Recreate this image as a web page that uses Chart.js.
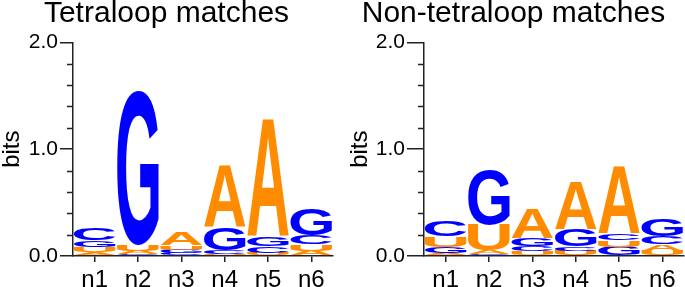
<!DOCTYPE html>
<html>
<head>
<meta charset="utf-8">
<script src="https://cdn.jsdelivr.net/npm/chart.js@4.4.1/dist/chart.umd.min.js"></script>
<style>
  body { margin: 0; background: #fff; width: 685px; height: 287px; position: relative; overflow: hidden; }
  .panel { position: absolute; top: 0; height: 287px; }
  #left { left: 0; width: 343px; }
  #right { left: 343px; width: 342px; }
  canvas { display: block; }
</style>
</head>
<body>
<div class="panel" id="left"><canvas id="c1" width="343" height="287"></canvas></div>
<div class="panel" id="right"><canvas id="c2" width="342" height="287"></canvas></div>
<script>
const positions = ['n1', 'n2', 'n3', 'n4', 'n5', 'n6'];

// letters in each column, bottom to top, with their heights in bits
const tetraLetters = [['A','U','G','C'], ['C','A','U','G'], ['C','G','U','A'], ['U','C','G','A'], ['U','C','G','A'], ['A','U','C','G']];
const tetraBits = [
  [0.035, 0.05, 0.065, 0.11],
  [0.015, 0.03, 0.055, 1.44],
  [0.025, 0.035, 0.04, 0.12],
  [0.02, 0.035, 0.21, 0.58],
  [0.03, 0.06, 0.09, 1.1],
  [0.05, 0.06, 0.085, 0.25]
];

const nonLetters = [['A','G','U','C'], ['C','A','U','G'], ['U','C','G','A'], ['U','C','G','A'], ['G','U','C','A'], ['U','A','C','G']];
const nonBits = [
  [0.025, 0.06, 0.1, 0.15],
  [0.015, 0.037, 0.238, 0.514],
  [0.045, 0.05, 0.075, 0.27],
  [0.05, 0.04, 0.156, 0.45],
  [0.087, 0.062, 0.062, 0.625],
  [0.05, 0.065, 0.07, 0.16]
];

const yLabelTicks = [0, 1, 2];
const yMinorTicks = [0.2, 0.4, 0.6, 0.8, 1.2, 1.4, 1.6, 1.8];

const letterColors = { A: '#FF8C00', U: '#FF8C00', G: '#0000FF', C: '#0000FF' };
const FONT = '"Liberation Sans", Arial, sans-serif';
const AXIS = '#222';

const glyphPlugin = {
  id: 'glyphs',
  afterDatasetsDraw(chart) {
    const ctx = chart.ctx;
    const letters = chart.options.plugins.glyphs.letters;
    ctx.save();
    ctx.font = 'bold 200px ' + FONT;
    ctx.textAlign = 'left';
    ctx.textBaseline = 'alphabetic';
    chart.data.datasets.forEach((ds, i) => {
      chart.getDatasetMeta(i).data.forEach((bar, j) => {
        const { x, y, base, width } = bar.getProps(['x', 'y', 'base', 'width'], true);
        const ch = letters[j][i];
        const m = ctx.measureText(ch);
        const gw = m.actualBoundingBoxLeft + m.actualBoundingBoxRight;
        const gh = m.actualBoundingBoxAscent + m.actualBoundingBoxDescent;
        const h = base - y;
        if (h <= 0) return;
        ctx.save();
        ctx.translate(x - width / 2, y);
        ctx.scale(width / gw, h / gh);
        ctx.fillStyle = letterColors[ch];
        ctx.fillText(ch, m.actualBoundingBoxLeft, m.actualBoundingBoxAscent);
        ctx.restore();
      });
    });
    ctx.restore();
  }
};

const minorTickPlugin = {
  id: 'minorTicks',
  afterDraw(chart) {
    const ctx = chart.ctx;
    const ys = chart.scales.y;
    const left = chart.chartArea.left;
    ctx.save();
    ctx.strokeStyle = AXIS;
    ctx.lineWidth = 1.5;
    yMinorTicks.forEach(v => {
      const py = Math.round(ys.getPixelForValue(v)) + 0.5;
      ctx.beginPath();
      ctx.moveTo(left - 6, py);
      ctx.lineTo(left, py);
      ctx.stroke();
    });
    ctx.restore();
  }
};

function makeLogo(id, title, letters, bits, cfg) {
  const datasets = [0, 1, 2, 3].map(k => ({
    data: bits.map(col => col[k]),
    backgroundColor: 'rgba(0,0,0,0)',
    borderWidth: 0,
    barPercentage: 0.96,
    categoryPercentage: 1
  }));
  return new Chart(document.getElementById(id), {
    type: 'bar',
    data: { labels: positions, datasets },
    plugins: [glyphPlugin, minorTickPlugin],
    options: {
      responsive: false,
      devicePixelRatio: 1,
      animation: false,
      layout: { padding: { left: 0, right: cfg.rightPad, top: 0, bottom: 0 } },
      plugins: {
        legend: { display: false },
        tooltip: { enabled: false },
        glyphs: { letters },
        title: {
          display: true,
          text: title,
          color: '#000',
          font: { family: FONT, size: 30, weight: 'normal', lineHeight: 0.9 },
          padding: { top: 0, bottom: 15.3 }
        }
      },
      scales: {
        x: {
          stacked: true,
          offset: true,
          grid: { drawOnChartArea: false, offset: false, tickLength: 6, color: AXIS, lineWidth: 1.5 },
          border: { color: AXIS, width: 1.5 },
          ticks: { color: '#000', font: { family: FONT, size: 24 }, padding: 4, maxRotation: 0 },
          afterFit: s => { s.height = 31; }
        },
        y: {
          stacked: true,
          min: 0,
          max: 2,
          afterBuildTicks: s => { s.ticks = yLabelTicks.map(v => ({ value: v })); },
          ticks: { color: '#000', font: { family: FONT, size: 21 }, padding: 2, callback: v => v.toFixed(1) },
          grid: { drawOnChartArea: false, tickLength: cfg.tickLen, color: AXIS, lineWidth: 1.5 },
          border: { color: AXIS, width: 1.5 },
          title: {
            display: true,
            text: 'bits',
            color: '#000',
            font: { family: FONT, size: 24, lineHeight: 1.03 },
            padding: { top: cfg.titlePad, bottom: 0 }
          },
          afterFit: s => { s.width = cfg.axisWidth; }
        }
      }
    }
  });
}

makeLogo('c1', 'Tetraloop matches', tetraLetters, tetraBits, { axisWidth: 73, rightPad: 10, tickLen: 13, titlePad: 0 });
makeLogo('c2', 'Non-tetraloop matches', nonLetters, nonBits, { axisWidth: 81, rightPad: 1, tickLen: 17, titlePad: 4.6 });
</script>
</body>
</html>
